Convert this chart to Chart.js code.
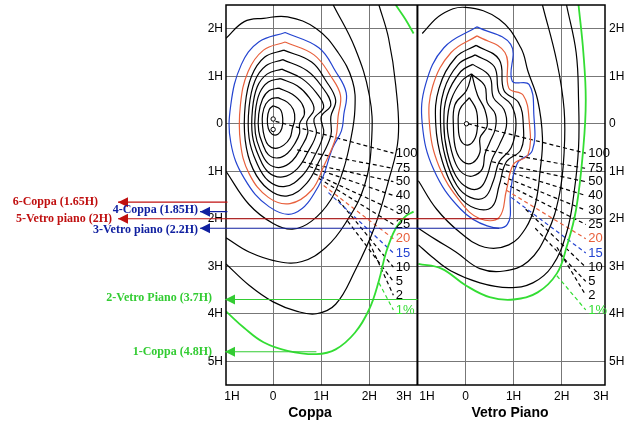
<!DOCTYPE html>
<html><head><meta charset="utf-8">
<script src="https://cdn.jsdelivr.net/npm/chart.js@4"></script>
<style>html,body{margin:0;padding:0;background:#fff}#w{width:628px;height:421px}</style>
</head><body><div id="w"><canvas id="c"></canvas></div>
<script>
// ---- data (H units; x,y pairs; y grows downward) ----
const yTicks = [-2,-1,0,1,2,3,4,5];
const levelLabels = ['100','75','50','40','30','25','20','15','10','5','2','1%'];
const labelY = [0.62,0.94,1.22,1.51,1.82,2.12,2.42,2.72,3.02,3.32,3.61,3.92];
const rightOffset = 4;
// Coppa (left)
const L100=[[0.1,-0.55],[0.3,-0.45],[0.42,-0.3],[0.45,-0.1],[0.4,0.1],[0.35,0.3],[0.22,0.45],[0.05,0.52],[-0.1,0.45],[-0.18,0.28],[-0.22,0.05],[-0.22,-0.2],[-0.15,-0.42],[-0.03,-0.53],[0.1,-0.55]];
const Lcore=[[0,-0.38],[0.15,-0.3],[0.2,-0.1],[0.18,0.1],[0.1,0.22],[-0.02,0.22],[-0.1,0.1],[-0.12,-0.1],[-0.08,-0.3],[0,-0.38]];
const L75=[[0.12,-0.75],[0.4,-0.62],[0.6,-0.42],[0.65,-0.2],[0.55,0],[0.55,0.2],[0.45,0.42],[0.3,0.62],[0.1,0.72],[-0.1,0.65],[-0.22,0.42],[-0.3,0.15],[-0.3,-0.2],[-0.22,-0.52],[-0.08,-0.7],[0.12,-0.75]];
const L50=[[0.15,-0.95],[0.5,-0.8],[0.75,-0.55],[0.85,-0.3],[0.7,-0.05],[0.72,0.2],[0.58,0.5],[0.4,0.78],[0.15,0.92],[-0.1,0.84],[-0.27,0.55],[-0.37,0.2],[-0.37,-0.25],[-0.28,-0.65],[-0.1,-0.88],[0.15,-0.95]];
const L40=[[0.18,-1.15],[0.6,-0.95],[0.9,-0.65],[1.05,-0.35],[0.85,-0.1],[0.9,0.2],[0.72,0.6],[0.5,0.95],[0.2,1.12],[-0.1,1.02],[-0.3,0.68],[-0.43,0.25],[-0.43,-0.3],[-0.33,-0.78],[-0.12,-1.05],[0.18,-1.15]];
const L30=[[0.2,-1.35],[0.7,-1.12],[1.0,-0.8],[1.2,-0.4],[1.0,-0.15],[1.05,0.2],[0.85,0.7],[0.6,1.1],[0.25,1.32],[-0.1,1.2],[-0.35,0.8],[-0.5,0.3],[-0.5,-0.35],[-0.38,-0.9],[-0.15,-1.22],[0.2,-1.35]];
const L25=[[0.22,-1.55],[0.8,-1.3],[1.1,-0.9],[1.3,-0.5],[1.2,-0.15],[1.2,0.25],[0.95,0.8],[0.7,1.25],[0.3,1.52],[-0.1,1.38],[-0.42,0.95],[-0.58,0.35],[-0.58,-0.4],[-0.45,-1.0],[-0.18,-1.4],[0.22,-1.55]];
const L20=[[0.25,-1.72],[0.85,-1.45],[1.2,-1.0],[1.4,-0.6],[1.35,-0.15],[1.3,0.3],[1.05,0.9],[0.8,1.4],[0.35,1.68],[-0.1,1.55],[-0.5,1.05],[-0.68,0.4],[-0.68,-0.4],[-0.52,-1.1],[-0.2,-1.55],[0.25,-1.72]];
const L15=[[0.25,-1.92],[0.95,-1.6],[1.3,-1.1],[1.52,-0.65],[1.47,-0.2],[1.42,0.15],[1.24,0.5],[0.95,1.3],[0.45,1.88],[-0.08,1.75],[-0.6,1.15],[-0.88,0.4],[-0.88,-0.4],[-0.66,-1.25],[-0.3,-1.72],[0.25,-1.92]];
const L10=[[-0.98,-1.8],[-0.6,-2.15],[-0.2,-2.22],[0.3,-2.25],[0.9,-2.0],[1.35,-1.5],[1.65,-0.9],[1.7,-0.3],[1.6,0.4],[1.45,1.0],[1.2,1.6],[0.8,2.05],[0.4,2.22],[0,2.1],[-0.5,1.7],[-0.98,1.0]];
const L5=[[-0.98,2.4],[-0.5,2.7],[0.1,2.9],[0.6,2.9],[1.1,2.6],[1.5,2.1],[1.9,1.3],[2.05,0.3],[2.0,-0.6],[1.7,-1.6],[1.25,-2.5]];
const L2=[[-0.98,2.95],[-0.5,3.4],[0,3.75],[0.5,3.95],[0.9,4.0],[1.3,3.8],[1.7,3.1],[2.1,2.2],[2.4,1.2],[2.6,0.3],[2.55,-0.8],[2.4,-1.8],[2.2,-2.5]];
const L1=[[-0.98,3.95],[-0.6,4.3],[-0.2,4.6],[0.3,4.78],[0.9,4.85],[1.3,4.75],[1.7,4.4],[2.0,3.9],[2.2,3.3],[2.35,2.7],[2.55,2.2],[2.75,1.95],[2.92,1.85]];
const L1top=[[2.55,-2.5],[2.75,-2.2],[2.92,-1.9]];
const leadStartL=[[0.05,-0.05],[0.5,0.55],[0.6,0.8],[0.75,0.9],[0.85,1.05],[0.95,1.15],[1.05,1.3],[1.15,1.45],[1.35,1.6],[1.55,2.05],[2.0,2.5],[2.2,3.35]];
// Vetro Piano (right)
const R100=[[0.08,-0.55],[0.22,-0.3],[0.25,0],[0.2,0.3],[0.05,0.45],[-0.1,0.35],[-0.15,0.05],[-0.12,-0.3],[0.08,-0.55]];
const R75=[[0.13,-1.05],[0.25,-0.6],[0.4,-0.3],[0.45,0.05],[0.3,0.3],[0.3,0.6],[0.15,0.82],[-0.05,0.8],[-0.2,0.55],[-0.25,0.1],[-0.22,-0.4],[0.02,-0.7],[0.13,-1.05]];
const R50=[[0.12,-1.05],[0.4,-0.8],[0.45,-0.45],[0.62,-0.2],[0.62,0.1],[0.5,0.4],[0.4,0.65],[0.35,0.95],[0.15,1.1],[-0.05,1.05],[-0.2,0.85],[-0.32,0.45],[-0.38,0],[-0.3,-0.5],[-0.08,-0.9],[0.12,-1.05]];
const R40=[[0.15,-1.25],[0.5,-1.0],[0.58,-0.55],[0.8,-0.3],[0.85,0.05],[0.7,0.45],[0.55,0.75],[0.45,1.1],[0.3,1.35],[0.05,1.35],[-0.2,1.1],[-0.38,0.6],[-0.45,0],[-0.38,-0.6],[-0.1,-1.1],[0.15,-1.25]];
const R30=[[0.2,-1.45],[0.6,-1.2],[0.7,-0.65],[0.95,-0.4],[1.05,0],[0.95,0.5],[0.7,0.8],[0.58,1.2],[0.4,1.55],[0.1,1.55],[-0.18,1.3],[-0.42,0.7],[-0.52,0],[-0.45,-0.7],[-0.15,-1.25],[0.2,-1.45]];
const R25=[[0.22,-1.65],[0.7,-1.35],[0.8,-0.7],[1.1,-0.45],[1.2,0],[1.15,0.55],[0.85,0.8],[0.7,1.3],[0.55,1.75],[0.2,1.78],[-0.15,1.5],[-0.48,0.8],[-0.62,0],[-0.55,-0.75],[-0.2,-1.4],[0.22,-1.65]];
const R20=[[0.24,-1.85],[0.82,-1.5],[0.9,-0.75],[1.2,-0.6],[1.32,-0.1],[1.3,0.65],[1.0,0.85],[0.85,1.4],[0.7,1.97],[0.3,2.0],[-0.1,1.65],[-0.55,0.9],[-0.75,0],[-0.68,-0.8],[-0.3,-1.5],[0.24,-1.85]];
const R15=[[0.24,-2.04],[0.94,-1.67],[0.97,-0.9],[1.32,-0.83],[1.42,-0.2],[1.39,0.56],[1.08,0.83],[0.94,1.4],[0.87,2.12],[0.45,2.15],[-0.1,1.8],[-0.66,0.97],[-0.9,0],[-0.83,-0.83],[-0.45,-1.6],[0.24,-2.04]];
const R10=[[-0.9,-1.9],[-0.5,-2.3],[0,-2.45],[0.7,-2.2],[1.15,-1.6],[1.3,-1.1],[1.5,-0.5],[1.6,0.3],[1.55,1.0],[1.45,1.7],[1.25,2.2],[0.9,2.55],[0.4,2.6],[-0.1,2.3],[-0.6,1.8],[-0.98,1.2]];
const R5=[[-0.98,2.2],[-0.6,2.45],[-0.2,2.7],[0.3,3.05],[0.8,3.1],[1.3,2.9],[1.7,2.3],[1.95,1.5],[2.05,0.6],[2.05,-0.3],[1.9,-1.3],[1.6,-2.5]];
const R2=[[-0.98,2.55],[-0.7,2.8],[-0.3,3.1],[0.3,3.35],[0.9,3.45],[1.4,3.35],[1.8,3.0],[2.1,2.3],[2.25,1.5],[2.35,0.5],[2.35,-0.5],[2.3,-1.5],[2.1,-2.5]];
const R1=[[-0.98,2.95],[-0.5,3.05],[0,3.4],[0.5,3.65],[1.0,3.7],[1.5,3.55],[1.9,3.15],[2.1,2.6],[2.3,1.8],[2.45,0.5],[2.5,-0.5],[2.45,-1.5],[2.35,-2.5]];
const leadStartR=[[0.05,0],[0.4,0.55],[0.55,0.8],[0.7,0.95],[0.75,1.1],[0.8,1.25],[0.85,1.4],[0.95,1.55],[1.25,1.8],[1.45,2.2],[1.9,2.6],[1.9,3.2]];
// annotations
const annText=['6-Coppa (1.65H)','4-Coppa (1.85H)','5-Vetro piano (2H)','3-Vetro piano (2.2H)','2-Vetro Piano (3.7H)','1-Coppa (4.8H)'];
const annY=[1.65,1.85,2.0,2.2,3.7,4.8];
const annEndX=[-0.95,-0.95,4.7,4.7,3.0,0.9];

// ---- build ----
const BLACK='#000', RED='#e8603c', BLUE='#2444d0', GREEN='#33dd33';
const lvlColor=[BLACK,BLACK,BLACK,BLACK,BLACK,BLACK,RED,BLUE,BLACK,BLACK,BLACK,GREEN];
const ds=[];
function add(arr,col,off,w){ds.push({data:arr.map(p=>({x:p[0]+off,y:p[1]})),borderColor:col,borderWidth:w||1.2,pointRadius:0,tension:0.4,fill:false});}
[[Lcore,BLACK],[L100,BLACK],[L75,BLACK],[L50,BLACK],[L40,BLACK],[L30,BLACK],[L25,BLACK],[L20,RED],[L15,BLUE],[L10,BLACK],[L5,BLACK],[L2,BLACK],[L1,GREEN],[L1top,GREEN]].forEach(a=>add(a[0],a[1],0,a[1]===GREEN?1.8:1.2));
[[R100,BLACK],[R75,BLACK],[R50,BLACK],[R40,BLACK],[R30,BLACK],[R25,BLACK],[R20,RED],[R15,BLUE],[R10,BLACK],[R5,BLACK],[R2,BLACK],[R1,GREEN]].forEach(a=>add(a[0],a[1],rightOffset,a[1]===GREEN?1.8:1.2));
[[leadStartL,0],[leadStartR,rightOffset]].forEach(([st,off])=>{
  st.forEach((p,i)=>ds.push({data:[{x:p[0]+off,y:p[1]},{x:2.5+off,y:labelY[i]}],borderColor:lvlColor[i],borderWidth:1.2,borderDash:[4,3],pointRadius:0,tension:0}));
});
ds.push({data:[{x:0,y:-0.1},{x:0,y:0.12},{x:rightOffset+0.02,y:0}],showLine:false,pointRadius:2.2,pointBorderColor:BLACK,pointBackgroundColor:'#fff',borderWidth:1});

const annColor=['#c01010','#1020a0','#c01010','#1020a0','#33cc33','#33cc33'];
const tipPx=[118,200,118,200,225,225];
const textRight=[98,198,112,198,212,212];
const textDy=[0,-2,0,2,-2,0];

const overlay={id:'ov',afterDatasetsDraw(ch){
  const c=ch.ctx,x=ch.scales.x,y=ch.scales.y,a=ch.chartArea;
  c.save();
  c.strokeStyle='#000';c.lineWidth=2;c.beginPath();c.moveTo(x.getPixelForValue(3),a.top);c.lineTo(x.getPixelForValue(3),a.bottom);c.stroke();
  c.lineWidth=1.5;c.strokeRect(a.left,a.top,a.right-a.left,a.bottom-a.top);
  c.font='13px Arial, "Liberation Sans"';c.textBaseline='middle';c.textAlign='left';
  [0,rightOffset].forEach(off=>levelLabels.forEach((t,i)=>{c.fillStyle=lvlColor[i];c.fillText(t,x.getPixelForValue(2.55+off),y.getPixelForValue(labelY[i]));}));
  annText.forEach((t,i)=>{
    const py=y.getPixelForValue(annY[i]);c.strokeStyle=annColor[i];c.fillStyle=annColor[i];c.lineWidth=1.2;
    c.beginPath();c.moveTo(tipPx[i],py);c.lineTo(x.getPixelForValue(annEndX[i]),py);c.stroke();
    c.beginPath();c.moveTo(tipPx[i],py);c.lineTo(tipPx[i]+10,py-5);c.lineTo(tipPx[i]+10,py+5);c.closePath();c.fill();
    c.font='bold 12px "Liberation Serif", serif';c.textAlign='right';c.fillText(t,textRight[i],py+textDy[i]);
  });
  c.fillStyle='#000';c.font='12px Arial, "Liberation Sans"';c.textAlign='center';c.textBaseline='middle';
  const ly=a.bottom+12;
  [[-1,'1H',232],[0,'0'],[1,'1H'],[2,'2H'],[3,'3H',404],[3,'1H',427],[4,'0'],[5,'1H'],[6,'2H'],[7,'3H',601]].forEach(([v,t,px])=>c.fillText(t,px||x.getPixelForValue(v),ly));
  c.font='bold 14px Arial, "Liberation Sans"';
  c.fillText('Coppa',310,a.bottom+28);c.fillText('Vetro Piano',510,a.bottom+28);
  c.restore();
}};
const yLab=v=>v===0?'0':Math.abs(v)+'H';
const noPadY=s=>{s.paddingTop=0;s.paddingBottom=0;};
new Chart(document.getElementById('c'),{type:'line',data:{datasets:ds},plugins:[overlay],
options:{responsive:true,maintainAspectRatio:false,animation:false,layout:{padding:{top:-5,left:0,right:0,bottom:0}},
 plugins:{legend:{display:false},tooltip:{enabled:false}},
 scales:{
  x:{type:'linear',min:-0.98,max:6.9,afterBuildTicks:s=>{s.ticks=[0,1,2,4,5,6].map(v=>({value:v}));},
     afterFit:s=>{s.height=36;s.paddingLeft=0;s.paddingRight=0;},ticks:{display:false},grid:{color:'#777',lineWidth:1,drawTicks:false},border:{display:false}},
  y:{type:'linear',reverse:true,min:-2.5,max:5.5,afterBuildTicks:s=>{s.ticks=yTicks.map(v=>({value:v}));},
     afterFit:s=>{s.width=226;noPadY(s);},ticks:{callback:yLab,color:'#000',font:{size:12,family:'Arial'},padding:3},grid:{color:'#777',lineWidth:1,drawTicks:false},border:{display:false}},
  y2:{type:'linear',position:'right',reverse:true,min:-2.5,max:5.5,afterBuildTicks:s=>{s.ticks=yTicks.map(v=>({value:v}));},
     afterFit:s=>{s.width=23;noPadY(s);},ticks:{callback:yLab,color:'#000',font:{size:12,family:'Arial'},padding:4},grid:{display:false,drawTicks:false},border:{display:false}}
 }}});
</script></body></html>
